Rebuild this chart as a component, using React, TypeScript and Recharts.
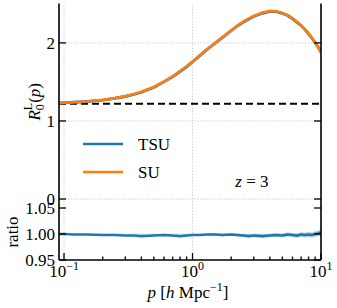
import React from 'react';
import { ComposedChart, Line, Area, XAxis, YAxis, ReferenceLine, ReferenceDot, Legend, Label } from 'recharts';

const P = [0.092, 0.1, 0.12, 0.15, 0.2, 0.25, 0.3, 0.35, 0.4, 0.5, 0.6, 0.7, 0.8, 0.9, 1.0, 1.15, 1.3, 1.5, 1.7, 2.0, 2.25, 2.5, 2.75, 3.0, 3.5, 4.0, 4.5, 5.0, 5.5, 6.0, 6.5, 7.0, 7.5, 8.0, 8.5, 9.0, 9.5, 10.0];
const SU = [1.230, 1.233, 1.240, 1.250, 1.270, 1.293, 1.318, 1.345, 1.375, 1.435, 1.505, 1.570, 1.640, 1.700, 1.760, 1.845, 1.920, 2.000, 2.070, 2.160, 2.225, 2.275, 2.315, 2.345, 2.390, 2.410, 2.405, 2.385, 2.355, 2.315, 2.270, 2.225, 2.175, 2.120, 2.065, 2.005, 1.945, 1.875];
const TSU = [1.230, 1.233, 1.239, 1.249, 1.267, 1.290, 1.314, 1.341, 1.370, 1.431, 1.502, 1.566, 1.634, 1.695, 1.757, 1.842, 1.918, 1.998, 2.066, 2.158, 2.221, 2.269, 2.307, 2.339, 2.381, 2.404, 2.401, 2.378, 2.352, 2.311, 2.264, 2.223, 2.171, 2.117, 2.061, 2.005, 1.946, 1.880];
const RATIO = [1.000, 1.000, 0.999, 0.999, 0.998, 0.998, 0.997, 0.997, 0.996, 0.997, 0.998, 0.997, 0.996, 0.997, 0.998, 0.998, 0.999, 0.999, 0.998, 0.999, 0.998, 0.997, 0.996, 0.997, 0.996, 0.997, 0.998, 0.997, 0.999, 0.998, 0.997, 0.999, 0.998, 0.999, 0.998, 1.000, 1.001, 1.003];
const RATIO_ERR = [0.001, 0.001, 0.001, 0.001, 0.001, 0.0012, 0.0012, 0.0013, 0.0013, 0.0014, 0.0015, 0.0016, 0.0017, 0.0018, 0.0019, 0.002, 0.002, 0.0022, 0.0023, 0.0025, 0.0026, 0.0027, 0.0028, 0.003, 0.0031, 0.0033, 0.0034, 0.0036, 0.0038, 0.004, 0.0042, 0.0044, 0.0046, 0.0048, 0.005, 0.0052, 0.0055, 0.006];
const DASHED_LEVEL = 1.22;

const X_TICKS = [0.1, 0.2, 0.3, 0.4, 0.5, 0.6, 0.7, 0.8, 0.9, 1, 2, 3, 4, 5, 6, 7, 8, 9, 10];
const X_MAJOR = [0.1, 1, 10];
const X_MAJOR_EXP = ['\u22121', '0', '1'];
const X_DOMAIN = [0.0914, 10];
const TOP_Y_TICKS = [0, 1, 2];
const TOP_Y_LABELS = ['0', '1', '2'];
const TOP_Y_DOMAIN = [-0.115, 2.505];
const BOT_Y_TICKS = [0.95, 1.0, 1.05];
const BOT_Y_LABELS = ['0.95', '1.00', '1.05'];
const BOT_Y_DOMAIN = [0.95, 1.05];
const SERIES_NAMES = ['TSU', 'SU'];
const Z_TEXT_AT = { p: 2.9, v: 0.23 };

const BLUE = '#1f77b4';
const ORANGE = '#ff7f0e';
const FONT = 'Liberation Serif';
const FS = 17;
const TXT = { fontFamily: FONT, fontSize: FS, fill: '#000' } as React.CSSProperties;
const AXIS = { stroke: '#000', strokeWidth: 1.6 };
const GRID = '#c4c4c4';

const topData = P.map((p, i) => ({ p, su: SU[i], tsu: TSU[i] }));
const botData = P.map((p, i) => ({ p, r: RATIO[i], band: [RATIO[i] - RATIO_ERR[i], RATIO[i] + RATIO_ERR[i]] }));

const majorIndex = (v: number) => X_MAJOR.findIndex((m) => Math.abs(m - v) < 1e-9);

const makeXTick = (side: 'top' | 'bottom', labels: boolean) => (props: any) => {
  const { x, y, payload } = props;
  const mi = majorIndex(payload.value);
  const len = mi >= 0 ? 7 : 3.5;
  const dir = side === 'bottom' ? -1 : 1;
  return (
    <g>
      <line x1={x} x2={x} y1={y} y2={y + dir * len} stroke="#000" strokeWidth={1.3} />
      {labels && mi >= 0 && (
        <text x={x} y={y + 17} textAnchor="middle" style={TXT}>
          10<tspan dy={-7} style={{ fontSize: 12 }}>{X_MAJOR_EXP[mi]}</tspan>
        </text>
      )}
    </g>
  );
};

const makeYTick = (side: 'left' | 'right', ticks: number[], labels: string[] | null) => (props: any) => {
  const { x, y, payload } = props;
  const dir = side === 'left' ? 1 : -1;
  const idx = ticks.findIndex((t) => Math.abs(t - payload.value) < 1e-9);
  return (
    <g>
      <line x1={x} x2={x + dir * 7} y1={y} y2={y} stroke="#000" strokeWidth={1.3} />
      {labels && idx >= 0 && (
        <text x={x - 4} y={y} dy="0.36em" textAnchor="end" style={TXT}>
          {labels[idx]}
        </text>
      )}
    </g>
  );
};

const RLabel = (props: any) => {
  const vb = props.viewBox || { x: 0, y: 0, width: 59, height: 200 };
  const cx = vb.x + 34;
  const cy = vb.y + vb.height / 2 - 4;
  return (
    <text x={cx} y={cy} dy="0.36em" textAnchor="middle" transform={`rotate(-90, ${cx}, ${cy})`} style={TXT}>
      <tspan style={{ fontStyle: 'italic' }}>R</tspan>
      <tspan style={{ fontSize: 12 }} dy={4}>0</tspan>
      <tspan style={{ fontSize: 12 }} dx={-6} dy={-12}>L</tspan>
      <tspan dy={8}>(</tspan>
      <tspan style={{ fontStyle: 'italic' }}>p</tspan>
      <tspan>)</tspan>
    </text>
  );
};

const RatioLabel = (props: any) => {
  const vb = props.viewBox || { x: 0, y: 0, width: 59, height: 52 };
  const cx = vb.x + 12;
  const cy = vb.y + vb.height / 2 - 2;
  return (
    <text x={cx} y={cy} dy="0.36em" textAnchor="middle" transform={`rotate(-90, ${cx}, ${cy})`} style={TXT}>
      ratio
    </text>
  );
};

const XLabel = (props: any) => {
  const vb = props.viewBox || { x: 59, y: 260, width: 262, height: 48 };
  const cx = vb.x + vb.width / 2 - 2;
  const cy = vb.y + 38;
  return (
    <text x={cx} y={cy} textAnchor="middle" style={TXT}>
      <tspan style={{ fontStyle: 'italic' }}>p</tspan>
      <tspan> [</tspan>
      <tspan style={{ fontStyle: 'italic' }}>h</tspan>
      <tspan> Mpc</tspan>
      <tspan dy={-7} style={{ fontSize: 12 }}>{'\u22121'}</tspan>
      <tspan dy={7}>]</tspan>
    </text>
  );
};

const ZLabel = (props: any) => {
  const vb = props.viewBox || { x: 0, y: 0 };
  const cx = vb.cx !== undefined ? vb.cx : vb.x;
  const cy = vb.cy !== undefined ? vb.cy : vb.y;
  return (
    <text x={cx} y={cy} dy="0.36em" textAnchor="middle" style={TXT}>
      <tspan style={{ fontStyle: 'italic' }}>z</tspan> = 3
    </text>
  );
};

const LegendContent = (props: any) => {
  const items = SERIES_NAMES.map((n) => (props.payload || []).find((e: any) => e.value === n)).filter(Boolean);
  return (
    <svg width={120} height={56}>
      {items.map((e: any, i: number) => (
        <g key={e.value}>
          <line x1={8} x2={48} y1={14 + i * 28} y2={14 + i * 28} stroke={e.color} strokeWidth={2.6} />
          <text x={63} y={14 + i * 28} dy="0.36em" style={TXT}>
            {e.value}
          </text>
        </g>
      ))}
    </svg>
  );
};

const gridProps = { stroke: GRID, strokeWidth: 0.8, strokeDasharray: '1.5 1.5' };

export default function App() {
  return (
    <div style={{ position: 'absolute', left: 0, top: 0, width: 337, height: 308, background: '#fff' }}>
      <div style={{ position: 'absolute', left: 0, top: 0 }}>
        <ComposedChart width={337} height={208} data={topData} margin={{ top: 3.5, right: 0, bottom: 0, left: 0 }}>
          <XAxis xAxisId="b" dataKey="p" type="number" scale="log" domain={X_DOMAIN} allowDataOverflow ticks={X_TICKS} interval={0}
            orientation="bottom" height={0} tickSize={0} tickMargin={0} tickLine={false} axisLine={AXIS} tick={makeXTick('bottom', false)} />
          <XAxis xAxisId="t" dataKey="p" type="number" scale="log" domain={X_DOMAIN} allowDataOverflow ticks={X_TICKS} interval={0}
            orientation="top" height={0} tickSize={0} tickMargin={0} tickLine={false} axisLine={AXIS} tick={makeXTick('top', false)} />
          <YAxis yAxisId="l" type="number" domain={TOP_Y_DOMAIN} allowDataOverflow ticks={TOP_Y_TICKS} interval={0} width={59}
            tickSize={0} tickMargin={0} tickLine={false} axisLine={AXIS} tick={makeYTick('left', TOP_Y_TICKS, TOP_Y_LABELS)}>
            <Label content={RLabel} />
          </YAxis>
          <YAxis yAxisId="r" orientation="right" type="number" domain={TOP_Y_DOMAIN} allowDataOverflow ticks={TOP_Y_TICKS} interval={0} width={16}
            tickSize={0} tickMargin={0} tickLine={false} axisLine={AXIS} tick={makeYTick('right', TOP_Y_TICKS, null)} />
          {X_MAJOR.slice(0, 2).map((v) => (
            <ReferenceLine key={'gx' + v} xAxisId="b" yAxisId="l" x={v} {...gridProps} />
          ))}
          {TOP_Y_TICKS.map((v) => (
            <ReferenceLine key={'gy' + v} xAxisId="b" yAxisId="l" y={v} {...gridProps} />
          ))}
          <ReferenceLine xAxisId="b" yAxisId="l" y={DASHED_LEVEL} stroke="#000" strokeWidth={2} strokeDasharray="7 4" />
          <Line xAxisId="b" yAxisId="l" dataKey="tsu" name={SERIES_NAMES[0]} stroke={BLUE} strokeWidth={3} dot={false} isAnimationActive={false} type="linear" />
          <Line xAxisId="b" yAxisId="l" dataKey="su" name={SERIES_NAMES[1]} stroke={ORANGE} strokeWidth={2.6} dot={false} isAnimationActive={false} type="linear" />
          <ReferenceDot xAxisId="b" yAxisId="l" x={Z_TEXT_AT.p} y={Z_TEXT_AT.v} r={0} fill="none" stroke="none" label={<ZLabel />} />
          <Legend layout="vertical" align="center" verticalAlign="middle" content={<LegendContent />}
            wrapperStyle={{ position: 'absolute', left: 75, top: 130, width: 120, height: 56 }} />
        </ComposedChart>
      </div>
      <div style={{ position: 'absolute', left: 0, top: 190 }}>
        <ComposedChart width={337} height={118} data={botData} margin={{ top: 18, right: 0, bottom: 0, left: 0 }}>
          <XAxis xAxisId="b" dataKey="p" type="number" scale="log" domain={X_DOMAIN} allowDataOverflow ticks={X_TICKS} interval={0}
            orientation="bottom" height={48} tickSize={0} tickMargin={0} tickLine={false} axisLine={AXIS} tick={makeXTick('bottom', true)}>
            <Label content={XLabel} />
          </XAxis>
          <XAxis xAxisId="t" dataKey="p" type="number" scale="log" domain={X_DOMAIN} allowDataOverflow ticks={X_TICKS} interval={0}
            orientation="top" height={0} tickSize={0} tickMargin={0} tickLine={false} axisLine={AXIS} tick={makeXTick('top', false)} />
          <YAxis yAxisId="l" type="number" domain={BOT_Y_DOMAIN} allowDataOverflow ticks={BOT_Y_TICKS} interval={0} width={59}
            tickSize={0} tickMargin={0} tickLine={false} axisLine={AXIS} tick={makeYTick('left', BOT_Y_TICKS, BOT_Y_LABELS)}>
            <Label content={RatioLabel} />
          </YAxis>
          <YAxis yAxisId="r" orientation="right" type="number" domain={BOT_Y_DOMAIN} allowDataOverflow ticks={BOT_Y_TICKS} interval={0} width={16}
            tickSize={0} tickMargin={0} tickLine={false} axisLine={AXIS} tick={makeYTick('right', BOT_Y_TICKS, null)} />
          {X_MAJOR.slice(0, 2).map((v) => (
            <ReferenceLine key={'bx' + v} xAxisId="b" yAxisId="l" x={v} {...gridProps} />
          ))}
          <ReferenceLine xAxisId="b" yAxisId="l" y={1.0} {...gridProps} />
          <Area xAxisId="b" yAxisId="l" dataKey="band" stroke="none" fill={BLUE} fillOpacity={0.35} isAnimationActive={false} type="linear" />
          <Line xAxisId="b" yAxisId="l" dataKey="r" stroke={BLUE} strokeWidth={2.6} dot={false} isAnimationActive={false} type="linear" />
        </ComposedChart>
      </div>
    </div>
  );
}
